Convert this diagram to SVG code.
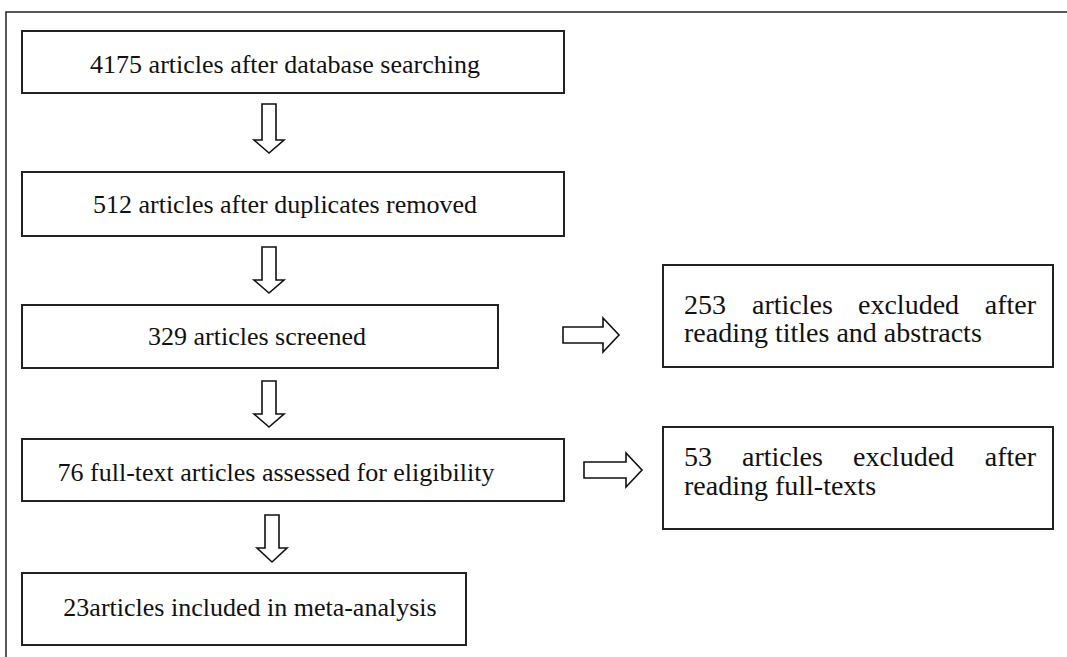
<svg xmlns="http://www.w3.org/2000/svg" width="1067" height="657" viewBox="0 0 1067 657">
<style>
.box{fill:#fff;stroke:#222;stroke-width:2}
.arr{fill:#fff;stroke:#111;stroke-width:1.6;stroke-linejoin:miter}
.t{font-family:"Liberation Serif","Times New Roman",serif;font-size:26px;fill:#111}
.r{font-size:28px}
.c{text-anchor:middle}
.e{text-anchor:end}
</style>
<rect width="1067" height="657" fill="#fff"/>
<path d="M6,657 V12 H1067" fill="none" stroke="#222" stroke-width="1.5"/>
<g id="n1"><rect class="box" x="22" y="31" width="542" height="62"/><text class="t c" x="285" y="73">4175 articles after database  searching</text></g>
<g id="n2"><rect class="box" x="22" y="172" width="542" height="64"/><text class="t c" x="285" y="213">512 articles after duplicates removed</text></g>
<g id="n3"><rect class="box" x="22" y="305" width="476" height="63"/><text class="t c" x="257" y="345">329 articles screened</text></g>
<g id="n4"><rect class="box" x="22" y="439" width="542" height="62"/><text class="t c" x="276" y="481">76 full-text articles assessed for eligibility</text></g>
<g id="n5"><rect class="box" x="22" y="573" width="444" height="72"/><text class="t c" x="250" y="616">23articles included in meta-analysis</text></g>
<g id="n6"><rect class="box" x="663" y="265" width="390" height="102"/><text class="t r" y="314"><tspan x="684">253</tspan><tspan x="752">articles</tspan><tspan x="858">excluded</tspan><tspan class="e" x="1036">after</tspan></text><text class="t r" x="684" y="342">reading titles and abstracts</text></g>
<g id="n7"><rect class="box" x="663" y="427" width="390" height="102"/><text class="t r" y="466"><tspan x="684">53</tspan><tspan x="742">articles</tspan><tspan x="853">excluded</tspan><tspan class="e" x="1036">after</tspan></text><text class="t r" x="684" y="495">reading full-texts</text></g>
<g id="connectors">
<polygon class="arr" points="262,104 276,104 276,140 284,140 269,153 254,140 262,140"/>
<polygon class="arr" points="262,247 276,247 276,280 284,280 269,293 254,280 262,280"/>
<polygon class="arr" points="262,381 276,381 276,414 284,414 269,427 254,414 262,414"/>
<polygon class="arr" points="265,515 279,515 279,548 287,548 272,562 257,548 265,548"/>
<polygon class="arr" points="563,327 603,327 603,318 619,335 603,352 603,343 563,343"/>
<polygon class="arr" points="584,462 626,462 626,453 642,470 626,487 626,478 584,478"/>
</g>
</svg>
